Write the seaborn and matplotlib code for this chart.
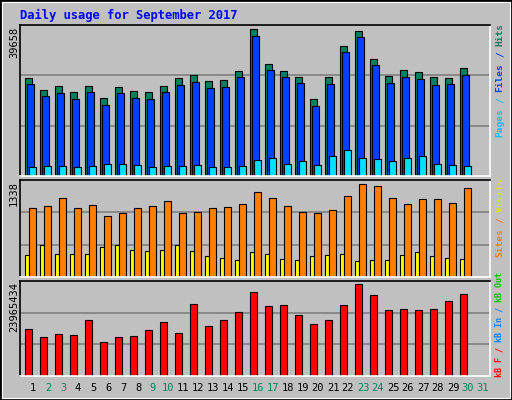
import matplotlib
matplotlib.use("Agg")
import matplotlib.pyplot as plt
import seaborn as sns
import numpy as np
from matplotlib.patches import Rectangle

sns.set_style("white")
plt.rcParams['font.family'] = ['DejaVu Sans Mono']

days = [str(d) for d in range(1, 32)]
weekend = [2, 3, 9, 10, 16, 17, 23, 24, 30, 31]
hits = [26500, 23260, 24340, 22720, 24340, 21090, 24070, 22990, 22720, 24340, 26500, 27310, 25690,
        25960, 28400, 39660, 30290, 28400, 26770, 20820, 26770, 35150, 39120, 31650, 27040, 28660,
        28120, 26770, 26500, 29200]
files = [24880, 21640, 22450, 20820, 22720, 19200, 22450, 21090, 20820, 22720, 24610, 25420, 23800,
         24070, 26770, 37770, 28660, 26770, 25150, 18930, 24880, 33540, 37500, 30020, 25150, 26770,
         26230, 24610, 24880, 27310]
pages = [2340, 2610, 2610, 2340, 2610, 3150, 3150, 2880, 2340, 2610, 2610, 2880, 2340, 2340, 2610,
         4230, 4770, 3150, 3960, 2880, 5320, 6940, 4770, 4510, 3960, 4770, 5320, 3150, 2880, 2610]
sites = [992, 1021, 1137, 992, 1035, 875, 918, 992, 1021, 1093, 918, 933, 992, 1006, 1050, 1224,
         1137, 1021, 933, 918, 962, 1166, 1338, 1309, 1137, 1050, 1122, 1122, 1064, 1280]
visits = [324, 469, 338, 338, 338, 440, 469, 396, 382, 396, 455, 382, 309, 280, 251, 367, 338, 266,
          251, 309, 324, 338, 237, 251, 251, 324, 367, 309, 280, 266]
kbytes = [12420000, 10320000, 11110000, 10840000, 14770000, 9010000, 10320000, 10580000, 11900000,
          14000000, 11370000, 18700000, 13200000, 14770000, 16610000, 21860000, 18180000, 18440000,
          16080000, 13470000, 14520000, 18440000, 23965434, 21070000, 17130000, 17390000, 17130000,
          17390000, 19490000, 21330000]

x = np.arange(len(hits))
W, H = 512, 400
fig = plt.figure(figsize=(W / 100, H / 100), dpi=100)
fig.patch.set_facecolor('#C0C0C0')
fig.add_artist(Rectangle((0, 0), 1, 1, transform=fig.transFigure, fill=False, ec='black', lw=2))
fig.add_artist(Rectangle((2 / W, 2 / H), 1 - 4 / W, 1 - 4 / H, transform=fig.transFigure, fill=False, ec='white', lw=0.8))

def make_ax(top, bottom):
    ax = fig.add_axes([20 / W, 1 - bottom / H, 470 / W, (bottom - top) / H])
    ax.set_facecolor('#C0C0C0')
    ax.set_xlim(-0.87, 30.47)
    for s in ['left', 'top']:
        ax.spines[s].set_color('black')
    for s in ['right', 'bottom']:
        ax.spines[s].set_color('white')
    for s in ax.spines.values():
        s.set_linewidth(1.2)
    ax.set_xticks([]); ax.set_yticks([])
    return ax

def grid(ax, top):
    ax.set_ylim(0, top)
    for f in (1 / 3, 2 / 3):
        ax.axhline(top * f, color='#808080', lw=1.2, zorder=0)

bw = 0.47
kw = dict(align='edge', edgecolor='black', linewidth=0.8, zorder=2)
ax1 = make_ax(25, 176)
grid(ax1, 39658 * 453 / 440)
ax1.bar(x - 0.53, hits, bw, color='#008060', **kw)
ax1.bar(x - 0.40, files, bw, color='#0040FF', **kw)
ax1.bar(x - 0.27, pages, bw, color='#00E0FF', **kw)

ax2 = make_ax(180, 277)
grid(ax2, 1338 * 290 / 277)
ax2.bar(x - 0.51, visits, 0.27, color='#FFFF00', **kw)
ax2.bar(x - 0.24, sites, bw, color='#FF8000', **kw)

ax3 = make_ax(281, 376)
grid(ax3, 23965434 * 284 / 274)
ax3.bar(x - 0.51, kbytes, bw, color='#FF0000', **kw)

fig.text(20 / W, 1 - 15 / H, 'Daily usage for September 2017', color='#0000FF',
         fontsize=8.7, fontweight='bold', va='center', ha='left')

for lab, ytop in (('39658', 27), ('1338', 181), ('23965434', 282)):
    fig.text(14 / W, 1 - ytop / H, lab, rotation=90, fontsize=7.5, va='top', ha='center', color='black')

for i, d in enumerate(days):
    xc = (33 + 15 * i) / W
    fig.text(xc, 1 - 388 / H, d, fontsize=7.5, ha='center', va='center',
             color='#008060' if (i + 1) in weekend else 'black')

def side(pieces, ybottom, fs=7.0):
    cw = fs * 0.602 * 100 / 72
    y = ybottom
    for txt, col in pieces:
        n = len(txt)
        core = txt.strip()
        lead = len(txt) - len(txt.lstrip())
        if core:
            fig.text(500 / W, 1 - (y - cw * lead) / H, core, rotation=90, fontsize=fs,
                     fontweight='bold', color=col, ha='center', va='bottom')
        y -= cw * n

side([('Pages', '#00C0FF'), (' / ', '#00C0FF'), ('Files', '#0040FF'), (' / ', '#0040FF'), ('Hits', '#008060')], 137, 6.8)
side([('Sites', '#FF8000'), (' / ', '#FF8000'), ('Visits', '#E0E000')], 257, 6.8)
side([('kB F', '#FF0000'), (' / ', '#FF0000'), ('kB In', '#0080FF'), (' / ', '#0080FF'), ('kB Out', '#00C000')], 377, 6.0)

fig.savefig('out.png', dpi=100, facecolor=fig.get_facecolor())
